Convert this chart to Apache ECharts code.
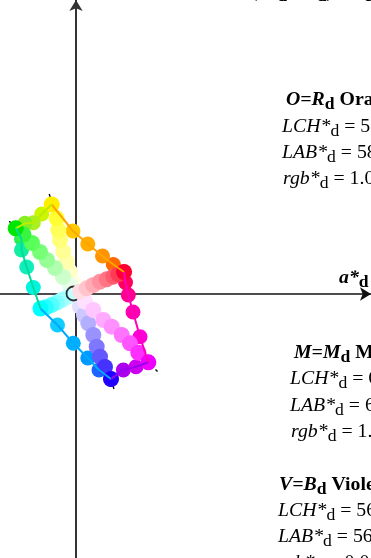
<!DOCTYPE html>
<html>
<head>
<meta charset="utf-8">
<script src="https://cdn.jsdelivr.net/npm/echarts@6/dist/echarts.min.js"></script>
<style>
  html, body { margin: 0; padding: 0; background: #fff; }
  #chart { width: 371px; height: 558px; }
</style>
</head>
<body>
<div id="chart"></div>
<script>
// ---- colour samples in the (a*d, b*d) plane ----
// Spokes: from the achromatic point out to each of the six elementary hues
const spokeO = [[4, 2.3], [10.7, 5.7], [17.3, 9], [24, 12.3], [30.7, 14.7], [37.3, 17.3], [42.3, 19.7], [48, 22]];
const spokeOColors = ['#ffdde4', '#ffc4cc', '#ffabb6', '#ff91a0', '#ff7585', '#ff5a6e', '#ff3a55', '#ff0033'];

const spokeY = [[-3, 12], [-6, 22.3], [-9.3, 32.3], [-12.7, 42.3], [-16, 54], [-17.7, 64], [-19.3, 75.7], [-24.3, 89.5]];
const spokeYColors = ['#ffffe6', '#ffffc8', '#ffffad', '#ffff95', '#ffff78', '#ffff5a', '#ffff33', '#ffee00'];

const spokeG = [[-6, 9], [-13, 17], [-21, 26], [-29, 34], [-36, 42], [-44, 51], [-52.5, 59.5], [-60.3, 65.7]];
const spokeGColors = ['#eaffea', '#ccffcc', '#b0ffb0', '#95ff95', '#78ff78', '#5aff5a', '#38f540', '#00e600'];

const spokeC = [[-5, -1.5], [-9.3, -3.3], [-14.3, -6], [-19.3, -8.7], [-24.3, -11], [-30, -13.3], [-35.5, -14.5]];
const spokeCColors = ['#dcffff', '#c0ffff', '#a0ffff', '#80ffff', '#55ffff', '#2affff', '#00ffff'];

const spokeB = [[4, -12.7], [8, -21], [12.3, -29.3], [17.3, -41], [20.7, -52.7], [24, -62.7], [29, -73], [35, -85]];
const spokeBColors = ['#e2e0ff', '#cdc8ff', '#b4aeff', '#9a92ff', '#8077ff', '#6458ff', '#4532ff', '#2200ff'];

const spokeM = [[9, -7.7], [17.3, -16], [27.3, -26], [35.7, -32.7], [45.7, -41], [54, -49.3], [62.3, -58.7], [72.3, -68.3]];
const spokeMColors = ['#ffe0ff', '#ffc6ff', '#ffaaff', '#ff90ff', '#ff74ff', '#ff55ff', '#ff30ff', '#ee00ff'];

// Edges: the hue circle between neighbouring elementary hues
const edgeOY = [[48, 22], [37.3, 29.5], [26.5, 38], [11.8, 50], [-3, 63], [-24.3, 89.5]];
const edgeOYColors = ['#ff0033', '#ff6a00', '#ff9400', '#ffad00', '#ffc800', '#ffee00'];

const edgeYG = [[-24.3, 89.5], [-34.3, 80], [-42.7, 71.3], [-51, 70.7], [-60.3, 65.7]];
const edgeYGColors = ['#ffee00', '#ccf500', '#aaf020', '#88ee22', '#00e600'];

const edgeGC = [[-60.3, 65.7], [-54.5, 55], [-54.5, 44], [-49.3, 27], [-42.7, 6.5], [-35.5, -14.5]];
const edgeGCColors = ['#00e600', '#22ee55', '#11eea0', '#11eebb', '#00f5e0', '#00ffff'];

const edgeCB = [[-35.5, -14.5], [-18.5, -31], [-2.7, -49.3], [11.8, -64], [23, -76], [35, -85]];
const edgeCBColors = ['#00ffff', '#11ccff', '#00b0ff', '#0099ff', '#1a66ff', '#2200ff'];

const edgeBM = [[35, -85], [47.3, -76], [60, -72.7], [72.3, -68.3]];
const edgeBMColors = ['#2200ff', '#aa00ee', '#cc00ee', '#ee00ff'];

const edgeMO = [[72.3, -68.3], [64, -42.7], [57, -18], [52.3, -1], [49.5, 11.5], [48, 22]];
const edgeMOColors = ['#ee00ff', '#ff00dd', '#ff00b0', '#ff0090', '#ff0060', '#ff0033'];

// achromatic point and the short radial marks beyond the corners
const neutralPoint = [[-2.5, 0.5]];
const cornerTicks = [
  [[-25.8, 97], [-26.8, 100]],
  [[-64.8, 70.8], [-66.8, 72.8]],
  [[37, -92], [38, -95]],
  [[79.5, -75.5], [81.5, -77.5]]
];

// ---- text blocks ----
const blockO = ['{bi|O=R}{bs|d}{b| Orange red}', '{i|LCH*}{s|d}{n| = 58, 72, 26}', '{i|LAB*}{s|d}{n| = 58, 65, 31}', '{i|rgb*}{s|d}{n| = 1.0, 0.0, 0.0}'];
const blockM = ['{bi|M=M}{bs|d}{b| Magenta red}', '{i|LCH*}{s|d}{n| = 64, 80, 317}', '{i|LAB*}{s|d}{n| = 64, 58, -55}', '{i|rgb*}{s|d}{n| = 1.0, 0.0, 1.0}'];
const blockV = ['{bi|V=B}{bs|d}{b| Violet blue}', '{i|LCH*}{s|d}{n| = 56, 75, 293}', '{i|LAB*}{s|d}{n| = 56, 29, -69}', '{i|rgb*}{s|d}{n| = 0.0, 0.0, 1.0}'];
const axisLabelA = '{bi|a*}{bs|d}';
const headline = '{b|Colour hue circle }{b|(}{bi|a*}{bs|d}{b|, }{bi|b*}{bs|d}{b|) diagram}';

const F = '"Liberation Serif", "DejaVu Serif", serif';
const FS = 18, SS = 16;
const rich = {
  n:  { fontFamily: F, fontSize: FS, fill: '#000' },
  i:  { fontFamily: F, fontSize: FS, fontStyle: 'italic', fill: '#000' },
  s:  { fontFamily: F, fontSize: SS, fill: '#000', padding: [10, 0, 0, 0] },
  b:  { fontFamily: F, fontSize: FS, fontWeight: 'bold', fill: '#000' },
  bi: { fontFamily: F, fontSize: FS, fontWeight: 'bold', fontStyle: 'italic', fill: '#000' },
  bs: { fontFamily: F, fontSize: SS, fontWeight: 'bold', fill: '#000', padding: [10, 0, 0, 0] }
};

function textItem(t, x, y) {
  return {
    type: 'text', x: x, y: y, z: 10, scaleX: 1.1,
    style: { text: t, rich: rich, align: 'left', verticalAlign: 'middle' }
  };
}
function textBlock(lines, x, yList) {
  return lines.map((t, k) => textItem(t, x[k], yList[k]));
}

const chart = echarts.init(document.getElementById('chart'), null, { renderer: 'canvas' });

function dots(pts, cols, size) {
  return {
    type: 'scatter', symbol: 'circle', symbolSize: size, silent: true,
    data: pts.map((p, k) => ({ value: p, itemStyle: { color: cols[k], opacity: 1 } }))
  };
}
function edgeLine(pts, color) {
  return {
    type: 'line', data: pts, symbol: 'none', silent: true,
    lineStyle: { color: color, width: 2 }
  };
}

const series = [
  edgeLine(edgeOY, '#ffa500'),
  edgeLine(edgeYG, '#b8ee00'),
  edgeLine(edgeGC, '#00dd99'),
  edgeLine(edgeCB, '#00aaff'),
  edgeLine(edgeBM, '#9900ee'),
  edgeLine(edgeMO, '#ff00bb'),
  dots(edgeOY, edgeOYColors, 15),
  dots(edgeYG, edgeYGColors, 15),
  dots(edgeGC, edgeGCColors, 15),
  dots(edgeCB, edgeCBColors, 15),
  dots(edgeBM, edgeBMColors, 15),
  dots(edgeMO, edgeMOColors, 15),
  dots(spokeY, spokeYColors, 16),
  dots(spokeG, spokeGColors, 16),
  dots(spokeC, spokeCColors, 16),
  dots(spokeB, spokeBColors, 16),
  {
    type: 'scatter', data: neutralPoint, symbol: 'circle', symbolSize: 14, silent: true,
    itemStyle: { color: 'rgba(255,255,255,0)', borderColor: '#000', borderWidth: 1.8 }
  },
  dots(spokeM, spokeMColors, 16),
  dots(spokeO, spokeOColors, 16),
  {
    type: 'lines', coordinateSystem: 'cartesian2d', silent: true,
    data: cornerTicks.map(c => ({ coords: c })),
    lineStyle: { color: '#000', width: 1.3, opacity: 1 }
  }
];

chart.setOption({
  animation: false,
  backgroundColor: '#fff',
  grid: { left: 0, right: 0, top: 0, bottom: 0, containLabel: false },
  xAxis: {
    type: 'value', min: -76, max: 295,
    splitLine: { show: false }, axisTick: { show: false }, axisLabel: { show: false },
    axisLine: { show: true, onZero: true, symbol: ['none', 'arrow'], symbolSize: [10, 11], lineStyle: { color: '#111', width: 1.6 } }
  },
  yAxis: {
    type: 'value', min: -264, max: 294,
    splitLine: { show: false }, axisTick: { show: false }, axisLabel: { show: false },
    axisLine: { show: true, onZero: true, symbol: ['none', 'arrow'], symbolSize: [10, 11], lineStyle: { color: '#333', width: 2 } }
  },
  graphic: [].concat(
    textBlock(blockO, [286, 282, 282, 283], [100, 127, 153, 179]),
    textBlock(blockM, [294, 290, 290, 291], [353, 379, 406, 432]),
    textBlock(blockV, [279, 278, 278, 278], [485, 511, 537, 563]),
    [textItem(axisLabelA, 339, 278)],
    [textItem(headline, 100, -8)]
  ),
  series: series
});
</script>
</body>
</html>
